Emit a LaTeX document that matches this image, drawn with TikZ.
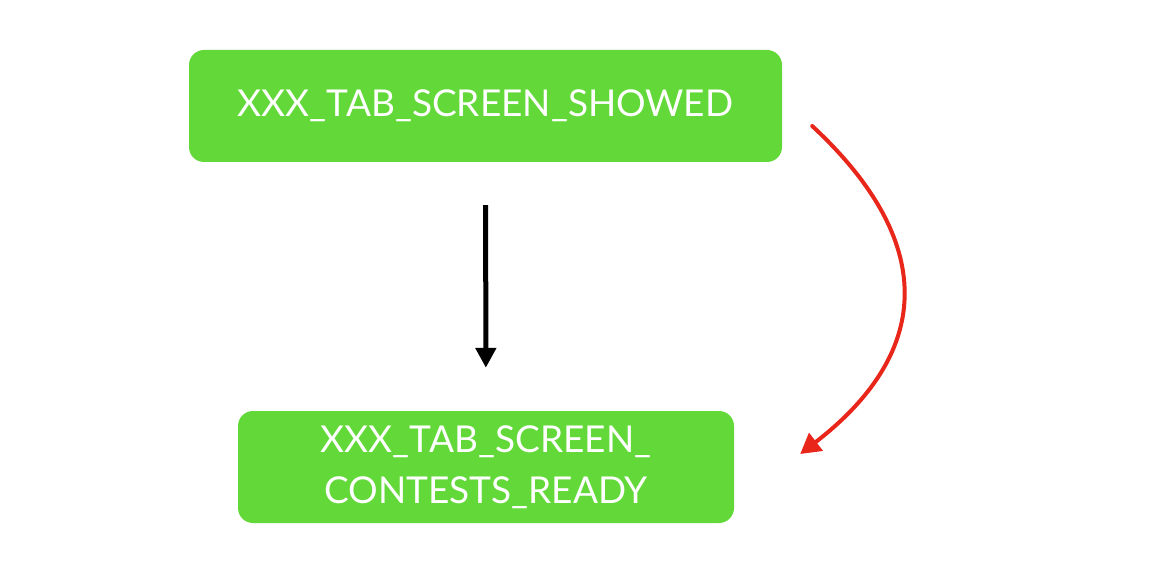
\documentclass[tikz,border=0pt]{standalone}
\usepackage{fontspec}
\setmainfont{Lato}
\usetikzlibrary{arrows.meta,positioning}
\definecolor{stategreen}{RGB}{98,217,57}
\definecolor{penred}{RGB}{232,38,26}
\tikzset{
  state/.style={fill=stategreen, rounded corners=15pt, align=center, text=white,
    font=\fontsize{37}{51}\selectfont, minimum height=112pt, inner sep=0pt},
  arr/.style={-{Triangle[length=20pt,width=20pt]}, line width=5pt, shorten <=43pt, shorten >=43pt},
  penarr/.style={-{Triangle[length=20pt,width=22pt]}, penred, line width=4pt, line cap=round}}
\begin{document}
\begin{tikzpicture}[x=1pt, y=-1pt]
  \useasboundingbox (0,0) rectangle (1156,572);
  \node[state, minimum width=593pt] (shown) at (485.5,106) {XXX\_TAB\_SCREEN\_SHOWED};
  \node[state, minimum width=496pt] (ready) at (486,467) {XXX\_TAB\_SCREEN\_\\CONTESTS\_READY};
  \draw[arr] (shown) -- (ready);
  \coordinate (rs) at ([xshift=30pt, yshift=-20pt]shown.east);
  \coordinate (re) at ([xshift=66pt, yshift=13pt]ready.east);
  \draw[penarr] (rs) .. controls (935,240) and (935,350) .. (re);
\end{tikzpicture}
\end{document}
